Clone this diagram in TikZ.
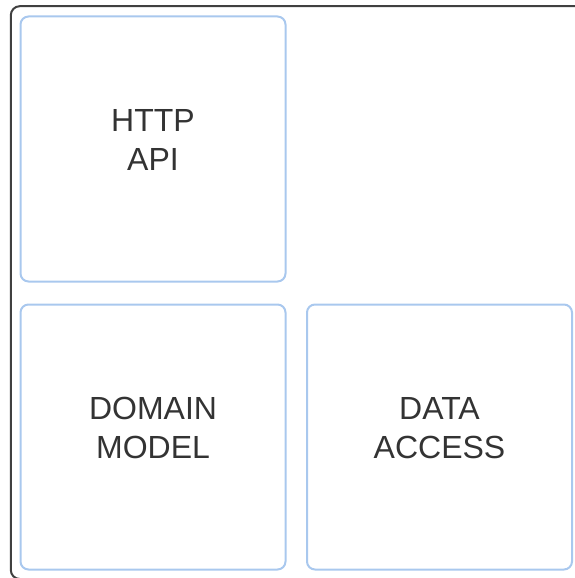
\documentclass[tikz,border=0pt]{standalone}
\usepackage{fontspec}
\setmainfont{Liberation Sans}
\definecolor{boxblue}{HTML}{A9C8EE}
\definecolor{framegray}{HTML}{404040}
\definecolor{textgray}{HTML}{333333}
\begin{document}
\begin{tikzpicture}[x=1pt,y=-1pt,
  layerbox/.style={draw=boxblue, line width=2pt, rounded corners=8pt, minimum width=265pt, minimum height=265pt, inner sep=0pt},
  layertext/.style={align=center, text=textgray, font=\fontsize{32}{39}\selectfont, inner sep=0pt}]
\useasboundingbox (0,0) rectangle (574,578);
\draw[framegray, line width=2pt, rounded corners=9pt] (10.8,6.2) rectangle (600,579);
\node[layerbox] (http) at (153,149) {};
\node[layerbox] (domain) at (153,437) {};
\node[layerbox] (data) at (439.5,437) {};
\node[layertext] (httpT) at ([yshift=9pt]http.center) {HTTP\\API};
\node[layertext] (domainT) at ([yshift=9pt]domain.center) {DOMAIN\\MODEL};
\node[layertext] (dataT) at ([yshift=9pt]data.center) {DATA\\ACCESS};
\end{tikzpicture}
\end{document}
